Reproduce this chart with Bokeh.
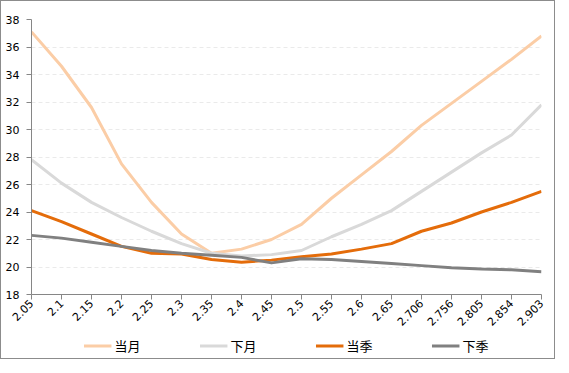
from bokeh.plotting import figure
from bokeh.models import Range1d, FixedTicker, Legend, LegendItem, ColumnDataSource
from bokeh.layouts import column
from bokeh.embed import file_html
from bokeh.resources import INLINE
import math

strikes = ["2.05", "2.1", "2.15", "2.2", "2.25", "2.3", "2.35", "2.4", "2.45", "2.5",
           "2.55", "2.6", "2.65", "2.706", "2.756", "2.805", "2.854", "2.903"]
dangyue = [37.1, 34.6, 31.6, 27.5, 24.7, 22.4, 21.0, 21.3, 22.0, 23.1,
           25.0, 26.7, 28.4, 30.3, 31.9, 33.5, 35.1, 36.8]
xiayue = [27.8, 26.1, 24.7, 23.6, 22.6, 21.7, 21.0, 20.8, 20.9, 21.2,
          22.2, 23.1, 24.1, 25.5, 26.9, 28.3, 29.6, 31.8]
dangji = [24.1, 23.3, 22.4, 21.5, 21.0, 20.95, 20.55, 20.35, 20.5, 20.75,
          20.95, 21.3, 21.7, 22.6, 23.2, 24.0, 24.7, 25.5]
xiaji = [22.3, 22.1, 21.8, 21.5, 21.2, 21.0, 20.85, 20.7, 20.3, 20.6,
         20.55, 20.4, 20.25, 20.1, 19.95, 19.85, 19.8, 19.65]
series_names = ["当月", "下月", "当季", "下季"]
y_ticks = [18, 20, 22, 24, 26, 28, 30, 32, 34, 36, 38]

colors = ["#FBCDA6", "#D9D9D9", "#E46C0A", "#808080"]
keys = ["dangyue", "xiayue", "dangji", "xiaji"]
idx = list(range(len(strikes)))
src = ColumnDataSource(dict(x=idx, dangyue=dangyue, xiayue=xiayue, dangji=dangji, xiaji=xiaji))

p = figure(width=553, height=331, output_backend="svg", toolbar_location=None,
           x_range=Range1d(0, len(strikes) - 1), y_range=Range1d(y_ticks[0], y_ticks[-1]),
           min_border_left=30, min_border_right=13, min_border_top=18, min_border_bottom=0)
p.outline_line_color = None
p.background_fill_color = "white"
p.border_fill_color = "white"

for key, col in zip(keys, colors):
    p.line("x", key, source=src, line_color=col, line_width=3, line_join="round")

p.xgrid.visible = False
p.ygrid.ticker = FixedTicker(ticks=y_ticks[1:])
p.ygrid.grid_line_color = "#EAEAEA"
p.ygrid.grid_line_dash = "4 3"
p.ygrid.grid_line_width = 1

p.xaxis.ticker = FixedTicker(ticks=idx)
p.xaxis.major_label_overrides = {i: s for i, s in enumerate(strikes)}
p.xaxis.major_label_orientation = math.pi / 4
p.yaxis.ticker = FixedTicker(ticks=y_ticks)
for ax in (p.xaxis[0], p.yaxis[0]):
    ax.axis_line_color = "#868686"
    ax.major_tick_line_color = "#868686"
    ax.major_tick_out = 5
    ax.major_tick_in = 0
    ax.minor_tick_line_color = None
    ax.major_label_text_font = "DejaVu Sans"
    ax.major_label_text_font_size = "11px"
    ax.major_label_text_color = "#000000"
p.yaxis.major_label_standoff = 7
p.xaxis.major_label_standoff = 2

# legend strip below the chart
lg = figure(width=553, height=26, output_backend="svg", toolbar_location=None,
            x_range=Range1d(-20, -19), y_range=Range1d(0, 1),
            min_border_left=0, min_border_right=0, min_border_top=0, min_border_bottom=0)
lg.axis.visible = False
lg.grid.visible = False
lg.outline_line_color = None
lg.border_fill_color = "white"
leg_renderers = []
for key, col in zip(keys, colors):
    leg_renderers.append(lg.line("x", key, source=src, line_color=col, line_width=3))

legend = Legend(items=[LegendItem(label=n, renderers=[r]) for n, r in zip(series_names, leg_renderers)],
                orientation="horizontal", location="center", spacing=59, glyph_width=28,
                glyph_height=14, label_height=14, label_standoff=3,
                label_text_font="Noto Sans CJK SC", label_text_font_size="13px",
                label_text_color="#000000", border_line_color=None,
                background_fill_alpha=0, padding=0, margin=0)
lg.add_layout(legend)

layout = column(p, lg, spacing=0)
layout.styles = {"border": "1px solid #8C8C8C", "box-sizing": "border-box", "background": "white"}

open("out.html", "w").write(file_html(layout, INLINE))
